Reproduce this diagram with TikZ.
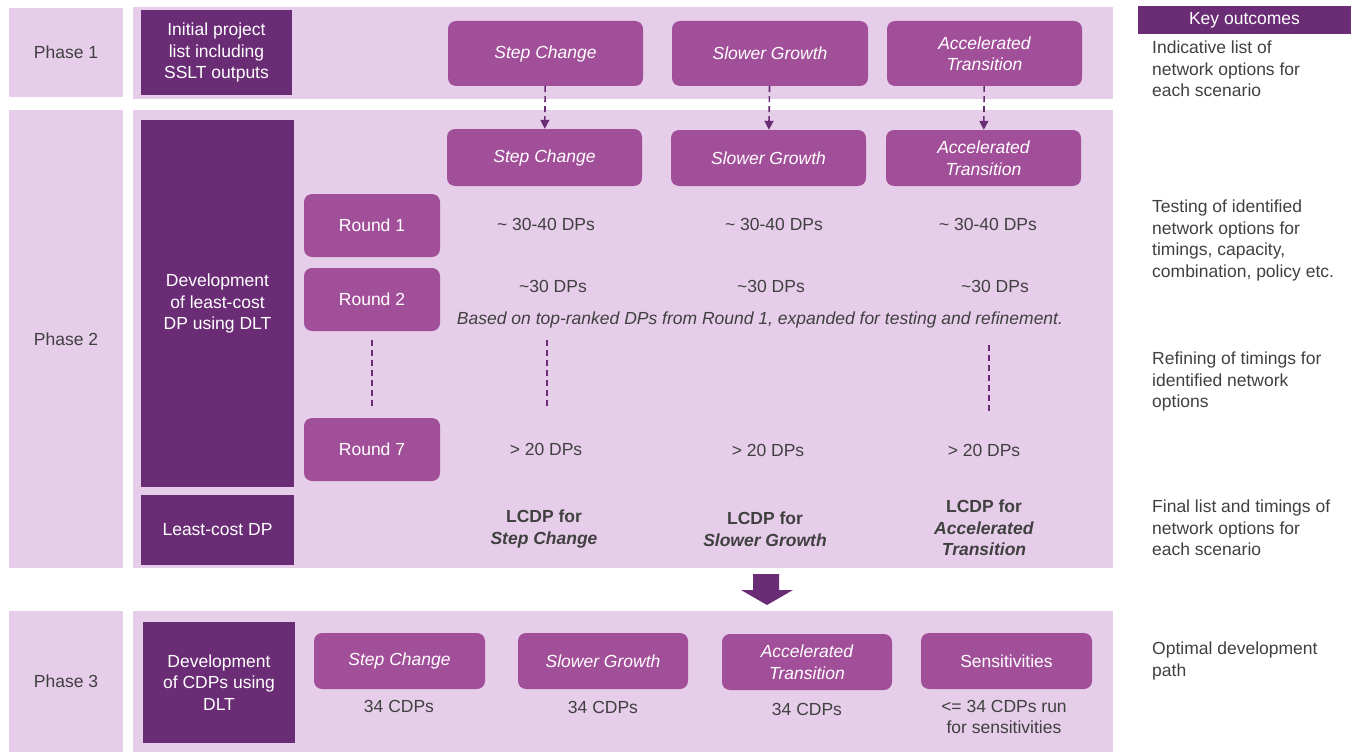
\documentclass[tikz,border=0pt]{standalone}
\usepackage{fontspec}
\setmainfont{Liberation Sans}
\usetikzlibrary{arrows.meta,positioning}
\definecolor{Plum}{HTML}{6A2C75}
\definecolor{Orchid}{HTML}{A24F99}
\definecolor{Lilac}{HTML}{E6CDE9}
\definecolor{Graphite}{HTML}{404040}
\newcommand{\bodyfont}{\fontsize{17.5}{21.5}\selectfont}
\tikzset{
  band/.style={fill=Lilac},
  phase/.style={
    fill=Lilac, text=Graphite, minimum width=114pt,
    inner sep=0pt, font=\bodyfont
  },
  stage/.style={
    fill=Plum, text=white, align=center,
    inner sep=0pt, font=\bodyfont
  },
  scenario/.style={
    rounded corners=8pt, fill=Orchid, text=white, align=center,
    inner sep=0pt, font=\bodyfont\itshape
  },
  roundbox/.style={
    rounded corners=8pt, fill=Orchid, text=white,
    minimum width=136pt, minimum height=63pt, inner sep=0pt, font=\bodyfont
  },
  count/.style={text=Graphite, align=center, inner sep=0pt, font=\bodyfont},
  outcome/.style={text=Graphite, align=left, anchor=west, inner sep=0pt, font=\bodyfont},
  handoff/.style={-{Triangle[length=9pt,width=9pt]}, line width=1.6pt, draw=Plum, dash pattern=on 6pt off 4pt},
  gapline/.style={line width=1.4pt, draw=Plum, dash pattern=on 6pt off 4pt}
}

\begin{document}
\begin{tikzpicture}[x=1pt,y=-1pt]
        \useasboundingbox (0,0) rectangle (1353,752);
        % bands
        \fill[band] (133,7) rectangle (1113,99);
        \fill[band] (133,110) rectangle (1113,568);
        \fill[band] (133,611) rectangle (1113,752);
        \node[phase,minimum height=89pt] (ph1) at (66,52.5) {Phase 1};
        \node[phase,minimum height=458pt] (ph2) at (66,339) {Phase 2};
        \node[phase,minimum height=141pt] (ph3) at (66,681.5) {Phase 3};
        % phase 1
        \node[stage,minimum width=151pt,minimum height=85pt] (init) at (216.5,52.5) {Initial project\\list including\\SSLT outputs};
        \node[scenario,minimum width=195pt,minimum height=65pt] (sc1) at (545.5,53.5) {Step Change};
        \node[scenario,minimum width=196pt,minimum height=65pt] (sg1) at (770,53.5) {Slower Growth};
        \node[scenario,minimum width=195pt,minimum height=65pt] (at1) at (984.5,53.5) {Accelerated\\Transition};
        % phase 2
        \node[stage,minimum width=153pt,minimum height=367pt] (devdp) at (217.5,303.5) {Development\\of least-cost\\DP using DLT};
        \node[stage,minimum width=153pt,minimum height=70pt] (lcdp) at (217.5,530) {Least-cost DP};
        \node[scenario,minimum width=195pt,minimum height=57pt] (sc2) at (544.5,157.5) {Step Change};
        \node[scenario,minimum width=195pt,minimum height=56pt] (sg2) at (768.5,158) {Slower Growth};
        \node[scenario,minimum width=195pt,minimum height=56pt] (at2) at (983.5,158) {Accelerated\\Transition};
        \draw[handoff] (sc1) -- (sc2);
        \draw[handoff] (sg1) -- (sg2);
        \draw[handoff] (at1) -- (at2);
        \node[roundbox] (r1) at (372,225.5) {Round 1};
        \node[roundbox] (r2) at (372,299.5) {Round 2};
        \node[roundbox] (r7) at (372,449.5) {Round 7};
        \node[count] (r1sc) at (546,224) {\textasciitilde\ 30-40 DPs};
        \node[count] (r1sg) at (774,224) {\textasciitilde\ 30-40 DPs};
        \node[count] (r1at) at (988,224) {\textasciitilde\ 30-40 DPs};
        \node[count] (r2sc) at (553,286) {\textasciitilde 30 DPs};
        \node[count] (r2sg) at (771,286) {\textasciitilde 30 DPs};
        \node[count] (r2at) at (995,286) {\textasciitilde 30 DPs};
        \node[count,font=\bodyfont\itshape] (note) at (760,320) {Based on top-ranked DPs from Round 1, expanded for testing and refinement.};
        \node[count] (r7sc) at (546,449) {> 20 DPs};
        \node[count] (r7sg) at (768,450) {> 20 DPs};
        \node[count] (r7at) at (984,450) {> 20 DPs};
        \coordinate (scgapa) at (547,340);
        \coordinate (scgapb) at (547,407);
        \coordinate (atgapa) at (989,345);
        \coordinate (atgapb) at (989,412);
        \draw[gapline,shorten <=9pt,shorten >=11pt] (r2) -- (r7);
        \draw[gapline] (scgapa) -- (scgapb);
        \draw[gapline] (atgapa) -- (atgapb);
        \node[count] (lcsc) at (544,529) {\textbf{LCDP for}\\\textbf{\textit{Step Change}}};
        \node[count] (lcsg) at (765,529) {\textbf{LCDP for}\\\textbf{\textit{Slower Growth}}};
        \node[count] (lcat) at (984,528) {\textbf{LCDP for}\\\textbf{\textit{Accelerated}}\\\textbf{\textit{Transition}}};
        % hand over to phase 3
        \fill[Plum] (753,574) -- (779,574) -- (779,590) -- (793,590) -- (767,605) -- (741,590) -- (753,590) -- cycle;
        % phase 3
        \node[stage,minimum width=152pt,minimum height=121pt] (devcdp) at (219,682.5) {Development\\of CDPs using\\DLT};
        \node[scenario,minimum width=171pt,minimum height=56pt] (sc3) at (399.5,661) {Step Change};
        \node[scenario,minimum width=170pt,minimum height=56pt] (sg3) at (603,661) {Slower Growth};
        \node[scenario,minimum width=170pt,minimum height=56pt] (at3) at (807,662) {Accelerated\\Transition};
        \node[scenario,minimum width=171pt,minimum height=56pt,font=\bodyfont] (sens) at (1006.5,661) {Sensitivities};
        \node[count] (cdpsc) at (399,706) {34 CDPs};
        \node[count] (cdpsg) at (603,707) {34 CDPs};
        \node[count] (cdpat) at (807,709) {34 CDPs};
        \node[count] (cdpsens) at (1004,717) {<= 34 CDPs run\\for sensitivities};
        % key outcomes
        \node[stage,minimum width=213pt,minimum height=28pt] (keyhead) at (1244.5,20) {Key outcomes};
        \node[outcome] (ko1) at (1152,69) {Indicative list of\\network options for\\each scenario};
        \node[outcome] (ko2) at (1152,240.5) {Testing of identified\\network options for\\timings, capacity,\\combination, policy etc.};
        \node[outcome] (ko3) at (1152,381.5) {Refining of timings for\\identified network\\options};
        \node[outcome] (ko4) at (1152,528) {Final list and timings of\\network options for\\each scenario};
        \node[outcome] (ko5) at (1152,661) {Optimal development\\path};
      \end{tikzpicture}
\end{document}
